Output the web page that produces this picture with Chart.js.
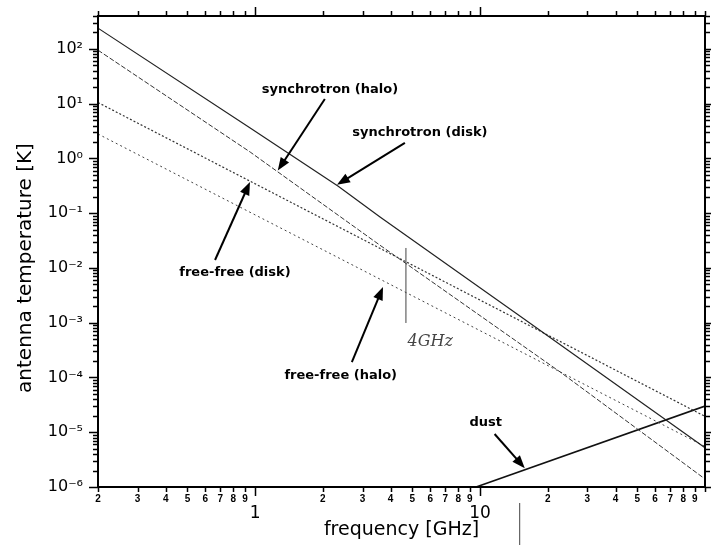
<!doctype html>
<html>

<head>
  <title>Galactic foregrounds</title>
  <script src="https://cdn.jsdelivr.net/npm/chart.js"></script>
  <style>
    body { margin: 0; background: #fff; }
  </style>
</head>

<body>
<canvas id="chart" width="711" height="550"></canvas>
<script>
    // frequencies in GHz, antenna temperatures in K
    const synchDiskFreq = [0.2, 0.95, 2.34, 3.59, 14.6, 100];
    const synchDisk = [240, 3.6, 0.31, 0.085, 1.44e-3, 5.2e-6];
    const synchHaloFreq = [0.2, 0.95, 3.59, 22.7, 100];
    const synchHalo = [95, 1.31, 0.026, 1.26e-4, 1.4e-6];
    const freeFreeFreq = [0.2, 100];
    const freeFreeDisk = [10.5, 1.95e-5];
    const freeFreeHalo = [2.8, 5.5e-6];
    const dustFreq = [9.6, 100];
    const dustTemp = [1.0e-6, 3.0e-5];

    const xTickValues = [0.2, 0.3, 0.4, 0.5, 0.6, 0.7, 0.8, 0.9, 1, 2, 3, 4, 5, 6, 7, 8, 9, 10,
        20, 30, 40, 50, 60, 70, 80, 90, 100];
    const xTickLabels = ['2', '3', '4', '5', '6', '7', '8', '9', ['', '1'], '2', '3', '4', '5', '6', '7', '8', '9', ['', '10'],
        '2', '3', '4', '5', '6', '7', '8', '9', ''];
    const yTickValues = [1e-6, 1e-5, 1e-4, 1e-3, 1e-2, 1e-1, 1, 10, 100];
    const yTickLabels = ['10⁻⁶', '10⁻⁵', '10⁻⁴', '10⁻³', '10⁻²', '10⁻¹', '10⁰', '10¹', '10²'];

    // annotations: label centre, arrow tail, arrow head (data coordinates)
    const noteTexts = ['synchrotron (halo)', 'synchrotron (disk)', 'free-free (disk)', 'free-free (halo)', 'dust'];
    const noteAt = [[2.15, 17.8], [5.4, 2.92], [0.813, 8.4e-3], [2.4, 1.06e-4], [10.6, 1.47e-5]];
    const arrowFrom = [[2.04, 12.2], [4.63, 1.92], [0.663, 0.014], [2.69, 1.91e-4], [11.6, 9.3e-6]];
    const arrowTo = [[1.26, 0.6], [2.31, 0.33], [0.948, 0.372], [3.70, 4.5e-3], [15.8, 2.2e-6]];

    const toPoints = (xs, ys) => xs.map((x, i) => ({ x: x, y: ys[i] }));

    function arrow(ctx, x0, y0, x1, y1) {
        const ang = Math.atan2(y1 - y0, x1 - x0);
        const hl = 13, hw = 5;
        ctx.beginPath();
        ctx.moveTo(x0, y0);
        ctx.lineTo(x1 - Math.cos(ang) * hl * 0.8, y1 - Math.sin(ang) * hl * 0.8);
        ctx.stroke();
        ctx.beginPath();
        ctx.moveTo(x1, y1);
        ctx.lineTo(x1 - Math.cos(ang) * hl - Math.sin(ang) * hw, y1 - Math.sin(ang) * hl + Math.cos(ang) * hw);
        ctx.lineTo(x1 - Math.cos(ang) * hl + Math.sin(ang) * hw, y1 - Math.sin(ang) * hl - Math.cos(ang) * hw);
        ctx.closePath();
        ctx.fill();
    }

    const decor = {
        id: 'decor',
        afterDraw(chart) {
            const ctx = chart.ctx;
            const a = chart.chartArea;
            const x = chart.scales.x, y = chart.scales.y;
            ctx.save();
            ctx.strokeStyle = '#000';
            ctx.fillStyle = '#000';

            // frame
            ctx.lineWidth = 2;
            ctx.strokeRect(a.left, a.top, a.right - a.left, a.bottom - a.top);

            // tick marks on all four sides, pointing out
            ctx.lineWidth = 1.5;
            ctx.beginPath();
            xTickValues.forEach(v => {
                const px = Math.round(x.getPixelForValue(v)) + 0.5;
                const len = (v === 1 || v === 10) ? 9 : 5;
                ctx.moveTo(px, a.bottom); ctx.lineTo(px, a.bottom + len);
                ctx.moveTo(px, a.top); ctx.lineTo(px, a.top - len);
            });
            for (let e = -6; e <= 2; e++) {
                for (let m = 1; m <= 9; m++) {
                    const v = m * Math.pow(10, e);
                    if (v > y.max) continue;
                    const py = Math.round(y.getPixelForValue(v)) + 0.5;
                    const len = m === 1 ? 9 : 5;
                    ctx.moveTo(a.left, py); ctx.lineTo(a.left - len, py);
                    ctx.moveTo(a.right, py); ctx.lineTo(a.right + len, py);
                }
            }
            ctx.stroke();

            // axis titles
            ctx.font = '19px "DejaVu Sans"';
            ctx.textAlign = 'center';
            ctx.textBaseline = 'middle';
            ctx.fillText('frequency [GHz]', (a.left + a.right) / 2, 530);
            ctx.save();
            ctx.translate(26, 268);
            ctx.rotate(-Math.PI / 2);
            ctx.font = '20px "DejaVu Sans"';
            ctx.fillText('antenna temperature [K]', 0, 0);
            ctx.restore();

            // labels and arrows
            ctx.font = 'bold 13px "DejaVu Sans"';
            noteTexts.forEach((t, i) => {
                ctx.fillText(t, x.getPixelForValue(noteAt[i][0]), y.getPixelForValue(noteAt[i][1]));
            });
            ctx.lineWidth = 2;
            arrowFrom.forEach((p, i) => {
                arrow(ctx, x.getPixelForValue(p[0]), y.getPixelForValue(p[1]),
                    x.getPixelForValue(arrowTo[i][0]), y.getPixelForValue(arrowTo[i][1]));
            });

            // pencil marks on the scan
            ctx.strokeStyle = '#444';
            ctx.lineWidth = 1;
            const mx = x.getPixelForValue(4.68);
            ctx.beginPath();
            ctx.moveTo(mx, y.getPixelForValue(0.0232));
            ctx.lineTo(mx, y.getPixelForValue(9.9e-4));
            const bx = x.getPixelForValue(15);
            ctx.moveTo(bx, a.bottom + 16);
            ctx.lineTo(bx, a.bottom + 58);
            ctx.stroke();
            ctx.fillStyle = '#444';
            ctx.font = 'italic 16px "DejaVu Serif"';
            ctx.fillText('4GHz', x.getPixelForValue(6.0), y.getPixelForValue(4.5e-4));
            ctx.restore();
        }
    };

    const ctx = document.getElementById('chart').getContext('2d');
    const chart = new Chart(ctx, {
        type: 'scatter',
        data: {
            datasets: [{
                label: 'synchrotron (disk)',
                data: toPoints(synchDiskFreq, synchDisk),
                showLine: true, pointRadius: 0,
                borderColor: '#222', borderWidth: 1.2
            }, {
                label: 'synchrotron (halo)',
                data: toPoints(synchHaloFreq, synchHalo),
                showLine: true, pointRadius: 0,
                borderColor: '#333', borderWidth: 1, borderDash: [5, 2]
            }, {
                label: 'free-free (disk)',
                data: toPoints(freeFreeFreq, freeFreeDisk),
                showLine: true, pointRadius: 0,
                borderColor: '#333', borderWidth: 1.2, borderDash: [2, 2]
            }, {
                label: 'free-free (halo)',
                data: toPoints(freeFreeFreq, freeFreeHalo),
                showLine: true, pointRadius: 0,
                borderColor: '#444', borderWidth: 1, borderDash: [2, 3]
            }, {
                label: 'dust',
                data: toPoints(dustFreq, dustTemp),
                showLine: true, pointRadius: 0,
                borderColor: '#111', borderWidth: 1.6
            }]
        },
        options: {
            responsive: false,
            animation: false,
            layout: { padding: { top: 16, right: 6, left: 0, bottom: 0 } },
            plugins: { legend: { display: false }, tooltip: { enabled: false } },
            scales: {
                x: {
                    type: 'logarithmic',
                    min: 0.2, max: 100,
                    grid: { display: false, drawTicks: false },
                    border: { display: false },
                    afterBuildTicks: axis => { axis.ticks = xTickValues.map(v => ({ value: v })); },
                    afterFit: s => { s.height = 63; s.paddingLeft = 0; s.paddingRight = 0; },
                    ticks: {
                        autoSkip: false, maxRotation: 0, minRotation: 0,
                        padding: 6, color: '#000',
                        callback: (v, i) => xTickLabels[i],
                        font: c => Array.isArray(xTickLabels[c.index])
                            ? { family: 'DejaVu Sans', size: 17, lineHeight: 0.82 }
                            : { family: 'Liberation Sans', size: 10, weight: 'bold', lineHeight: 1.2 }
                    }
                },
                y: {
                    type: 'logarithmic',
                    min: 1e-6, max: 400,
                    grid: { display: false, drawTicks: false },
                    border: { display: false },
                    afterBuildTicks: axis => { axis.ticks = yTickValues.map(v => ({ value: v })); },
                    afterFit: s => { s.width = 98; s.paddingTop = 0; s.paddingBottom = 0; },
                    ticks: {
                        autoSkip: false, padding: 15, color: '#000',
                        callback: (v, i) => yTickLabels[i],
                        font: { family: 'DejaVu Sans', size: 16 }
                    }
                }
            }
        },
        plugins: [decor]
    });
</script>
</body>

</html>
